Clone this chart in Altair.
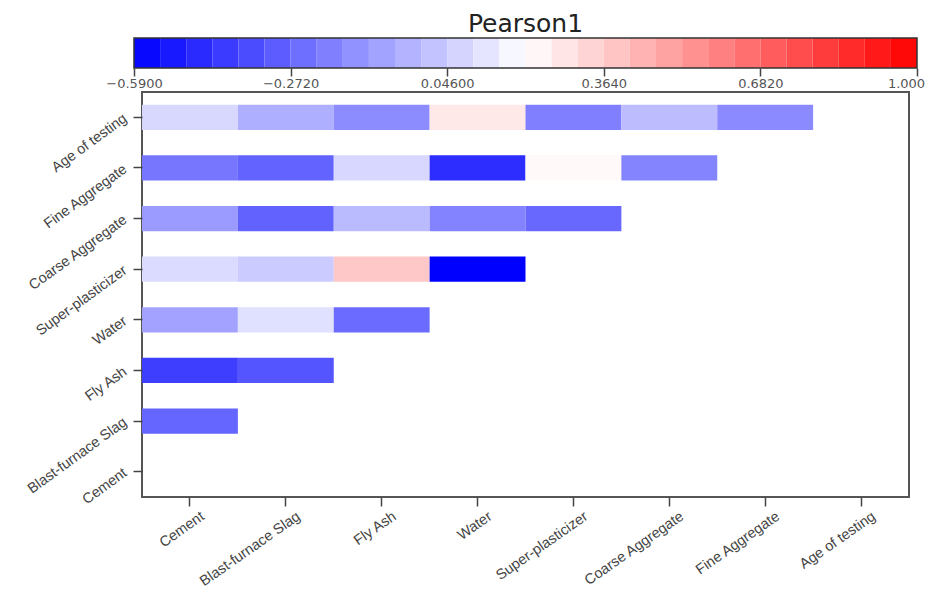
import altair as alt
import numpy as np
import pandas as pd

variables = ["Cement", "Blast-furnace Slag", "Fly Ash", "Water",
             "Super-plasticizer", "Coarse Aggregate", "Fine Aggregate", "Age of testing"]

# lower-triangle cells: row variable (y), column variable (x), Pearson r
row_var = ["Blast-furnace Slag",
           "Fly Ash", "Fly Ash",
           "Water", "Water", "Water",
           "Super-plasticizer", "Super-plasticizer", "Super-plasticizer", "Super-plasticizer",
           "Coarse Aggregate", "Coarse Aggregate", "Coarse Aggregate", "Coarse Aggregate", "Coarse Aggregate",
           "Fine Aggregate", "Fine Aggregate", "Fine Aggregate", "Fine Aggregate", "Fine Aggregate", "Fine Aggregate",
           "Age of testing", "Age of testing", "Age of testing", "Age of testing", "Age of testing",
           "Age of testing", "Age of testing"]
col_var = ["Cement",
           "Cement", "Blast-furnace Slag",
           "Cement", "Blast-furnace Slag", "Fly Ash",
           "Cement", "Blast-furnace Slag", "Fly Ash", "Water",
           "Cement", "Blast-furnace Slag", "Fly Ash", "Water", "Super-plasticizer",
           "Cement", "Blast-furnace Slag", "Fly Ash", "Water", "Super-plasticizer", "Coarse Aggregate",
           "Cement", "Blast-furnace Slag", "Fly Ash", "Water", "Super-plasticizer",
           "Coarse Aggregate", "Fine Aggregate"]
pearson = [-0.275,
           -0.397, -0.324,
           -0.082, 0.107, -0.257,
           0.092, 0.043, 0.378, -0.658,
           -0.109, -0.284, -0.010, -0.182, -0.266,
           -0.223, -0.282, 0.079, -0.451, 0.223, -0.178,
           0.082, -0.044, -0.154, 0.278, -0.193, -0.003, -0.156]

cb_min, cb_max = -0.59, 1.0
cb_ticks = [-0.59, -0.272, 0.046, 0.364, 0.682, 1.0]
cb_steps = 30

df = pd.DataFrame({"row": row_var, "col": col_var, "r": pearson})

edges = np.linspace(cb_min, cb_max, cb_steps + 1)
cb = pd.DataFrame({"x0": edges[:-1], "x1": edges[1:], "mid": (edges[:-1] + edges[1:]) / 2})
cb_frame = pd.DataFrame({"a": [cb_min], "b": [cb_max]})

FONT = "Liberation Sans"
W, H = 767, 405

color_scale = alt.Scale(domain=[cb_min, (cb_min + cb_max) / 2, cb_max],
                        range=["#0000ff", "#ffffff", "#ff0000"], interpolate="rgb")

cbx = alt.Scale(domain=[cb_min, cb_max], range=[-8, W + 8], nice=False, zero=False)

bar = alt.Chart(cb).mark_rect().encode(
    x=alt.X("x0:Q", scale=cbx,
            axis=alt.Axis(values=cb_ticks, format=".4r", title=None, grid=False, domain=False,
                          tickSize=8, tickColor="#444", tickWidth=1.5, labelColor="#555",
                          labelFont="DejaVu Sans", labelFontSize=13, labelFlush=False,
                          labelOverlap=False, labelPadding=1,
                          labelOffset={"condition": {"test": "datum.value >= 1", "value": -11},
                                       "value": 0})),
    x2="x1:Q",
    color=alt.Color("mid:Q", scale=color_scale, legend=None),
)
frame = alt.Chart(cb_frame).mark_rect(fillOpacity=0, stroke="#333", strokeWidth=1.5).encode(
    x=alt.X("a:Q", scale=cbx), x2="b:Q"
)
colorbar = alt.layer(bar, frame).properties(
    width=W, height=30,
    title=alt.TitleParams("Pearson1", font="DejaVu Sans", fontSize=25, fontWeight="normal",
                          color="#222", anchor="middle", offset=0),
    view=alt.ViewBackground(stroke="transparent"),
)

heat = alt.Chart(df).mark_rect().encode(
    x=alt.X("col:N", scale=alt.Scale(domain=variables, paddingInner=0, paddingOuter=0),
            axis=alt.Axis(title=None, labelAngle=325, labelAlign="right", labelBaseline="top",
                          tickSize=9, tickColor="#444", tickWidth=1.5, domain=False,
                          labelColor="#444", labelFont=FONT, labelFontSize=14.5,
                          labelPadding=3, labelOffset=9)),
    y=alt.Y("row:N", scale=alt.Scale(domain=variables[::-1], paddingInner=0.5, paddingOuter=0.25),
            axis=alt.Axis(title=None, labelAngle=324, labelAlign="right", labelBaseline="middle",
                          tickSize=9, tickColor="#444", tickWidth=1.5, domain=False,
                          labelColor="#444", labelFont=FONT, labelFontSize=14.5,
                          labelPadding=8)),
    color=alt.Color("r:Q", scale=color_scale, legend=None),
).properties(
    width=W, height=H,
    view=alt.ViewBackground(stroke="#555", strokeWidth=2),
)

chart = alt.vconcat(colorbar, heat, spacing=0).properties(
    padding={"left": 15, "top": 3, "right": 0, "bottom": 0}
).configure_view(stroke="transparent")

chart.save("out.html", embed_options={"renderer": "svg", "actions": False})
